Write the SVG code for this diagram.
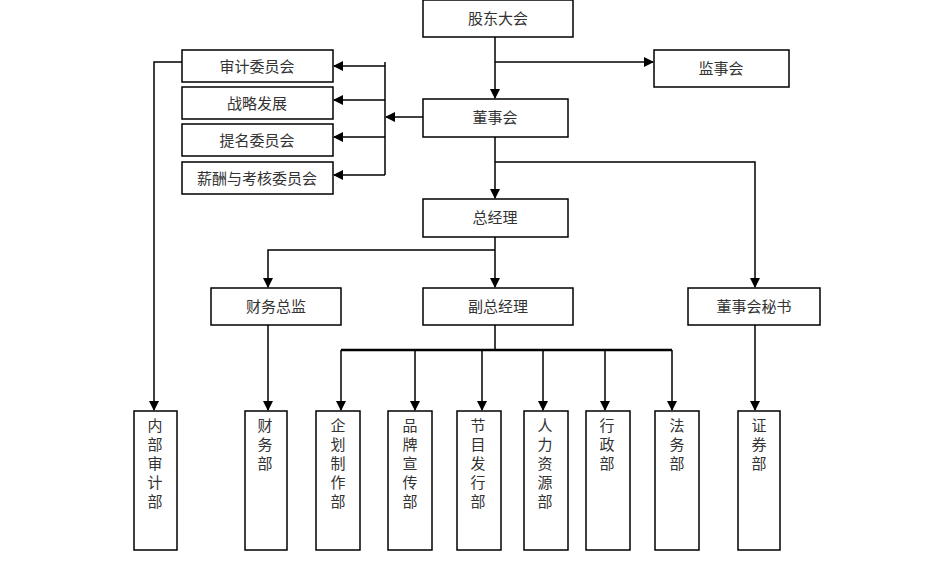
<svg xmlns="http://www.w3.org/2000/svg" width="939" height="568" viewBox="0 0 939 568">
<style>
rect{fill:#fff;stroke:#000;stroke-width:1.5}
text{font-family:"Noto Sans CJK SC","Noto Sans",sans-serif;font-size:15px;fill:#333;text-anchor:middle}
.c line,.c polyline{stroke:#000;stroke-width:1.5;fill:none}
</style>
<defs><marker id="a" markerWidth="10" markerHeight="10" refX="9" refY="5" orient="auto" markerUnits="userSpaceOnUse"><path d="M0,0L10,5L0,10z" fill="#000"/></marker></defs>
<g class="c">
<line x1="495" y1="37" x2="495" y2="98" marker-end="url(#a)"/>
<line x1="495" y1="62" x2="653" y2="62" marker-end="url(#a)"/>
<line x1="423" y1="117" x2="386" y2="117" marker-end="url(#a)"/>
<line x1="385" y1="62" x2="385" y2="175"/>
<line x1="385" y1="66" x2="334" y2="66" marker-end="url(#a)"/>
<line x1="385" y1="100" x2="334" y2="100" marker-end="url(#a)"/>
<line x1="385" y1="137" x2="334" y2="137" marker-end="url(#a)"/>
<line x1="385" y1="175" x2="334" y2="175" marker-end="url(#a)"/>
<polyline points="182,62 154,62 154,410" marker-end="url(#a)"/>
<line x1="495" y1="137" x2="495" y2="198" marker-end="url(#a)"/>
<polyline points="495,162 755,162 755,287" marker-end="url(#a)"/>
<line x1="495" y1="237" x2="495" y2="287" marker-end="url(#a)"/>
<polyline points="495,250 268,250 268,287" marker-end="url(#a)"/>
<line x1="268" y1="325" x2="268" y2="410" marker-end="url(#a)"/>
<line x1="755" y1="325" x2="755" y2="410" marker-end="url(#a)"/>
<line x1="495" y1="325" x2="495" y2="350"/>
<line x1="341" y1="350" x2="672" y2="350" style="stroke-width:2.5"/>
<line x1="341" y1="350" x2="341" y2="410" marker-end="url(#a)"/>
<line x1="415" y1="350" x2="415" y2="410" marker-end="url(#a)"/>
<line x1="482" y1="350" x2="482" y2="410" marker-end="url(#a)"/>
<line x1="543" y1="350" x2="543" y2="410" marker-end="url(#a)"/>
<line x1="605" y1="350" x2="605" y2="410" marker-end="url(#a)"/>
<line x1="672" y1="350" x2="672" y2="410" marker-end="url(#a)"/>
</g>
<g id="gudong"><rect x="423" y="0" width="150" height="37"/><text x="498" y="24">股东大会</text></g>
<g id="jianshi"><rect x="654" y="50" width="135" height="37"/><text x="721" y="74">监事会</text></g>
<g id="dongshi"><rect x="423" y="99" width="145" height="38"/><text x="495" y="123">董事会</text></g>
<g id="shenji"><rect x="182" y="50" width="151" height="32"/><text x="257" y="72">审计委员会</text></g>
<g id="zhanlue"><rect x="182" y="87" width="151" height="32"/><text x="257" y="109">战略发展</text></g>
<g id="timing"><rect x="182" y="124" width="151" height="32"/><text x="257" y="146">提名委员会</text></g>
<g id="xinchou"><rect x="182" y="162" width="151" height="32"/><text x="257" y="184">薪酬与考核委员会</text></g>
<g id="zongjingli"><rect x="423" y="199" width="145" height="38"/><text x="495" y="223">总经理</text></g>
<g id="caiwuzongjian"><rect x="211" y="288" width="130" height="37"/><text x="276" y="312">财务总监</text></g>
<g id="fuzong"><rect x="423" y="288" width="150" height="37"/><text x="498" y="312">副总经理</text></g>
<g id="mishu"><rect x="688" y="288" width="132" height="37"/><text x="754" y="312">董事会秘书</text></g>
<g id="neibu"><rect x="134" y="411" width="43" height="139"/><text x="155" y="431"><tspan x="155">内</tspan><tspan x="155" dy="19">部</tspan><tspan x="155" dy="19">审</tspan><tspan x="155" dy="19">计</tspan><tspan x="155" dy="19">部</tspan></text></g>
<g id="caiwu"><rect x="245" y="411" width="42" height="139"/><text x="265" y="431"><tspan x="265">财</tspan><tspan x="265" dy="19">务</tspan><tspan x="265" dy="19">部</tspan></text></g>
<g id="qihua"><rect x="316" y="411" width="44" height="139"/><text x="338" y="431"><tspan x="338">企</tspan><tspan x="338" dy="19">划</tspan><tspan x="338" dy="19">制</tspan><tspan x="338" dy="19">作</tspan><tspan x="338" dy="19">部</tspan></text></g>
<g id="pinpai"><rect x="388" y="411" width="44" height="139"/><text x="410" y="431"><tspan x="410">品</tspan><tspan x="410" dy="19">牌</tspan><tspan x="410" dy="19">宣</tspan><tspan x="410" dy="19">传</tspan><tspan x="410" dy="19">部</tspan></text></g>
<g id="jiemu"><rect x="457" y="411" width="44" height="139"/><text x="478" y="431"><tspan x="478">节</tspan><tspan x="478" dy="19">目</tspan><tspan x="478" dy="19">发</tspan><tspan x="478" dy="19">行</tspan><tspan x="478" dy="19">部</tspan></text></g>
<g id="renli"><rect x="524" y="411" width="44" height="139"/><text x="545" y="431"><tspan x="545">人</tspan><tspan x="545" dy="19">力</tspan><tspan x="545" dy="19">资</tspan><tspan x="545" dy="19">源</tspan><tspan x="545" dy="19">部</tspan></text></g>
<g id="xingzheng"><rect x="586" y="411" width="44" height="139"/><text x="607" y="431"><tspan x="607">行</tspan><tspan x="607" dy="19">政</tspan><tspan x="607" dy="19">部</tspan></text></g>
<g id="fawu"><rect x="655" y="411" width="44" height="139"/><text x="677" y="431"><tspan x="677">法</tspan><tspan x="677" dy="19">务</tspan><tspan x="677" dy="19">部</tspan></text></g>
<g id="zhengquan"><rect x="738" y="411" width="42" height="139"/><text x="759" y="431"><tspan x="759">证</tspan><tspan x="759" dy="19">券</tspan><tspan x="759" dy="19">部</tspan></text></g>
</svg>
